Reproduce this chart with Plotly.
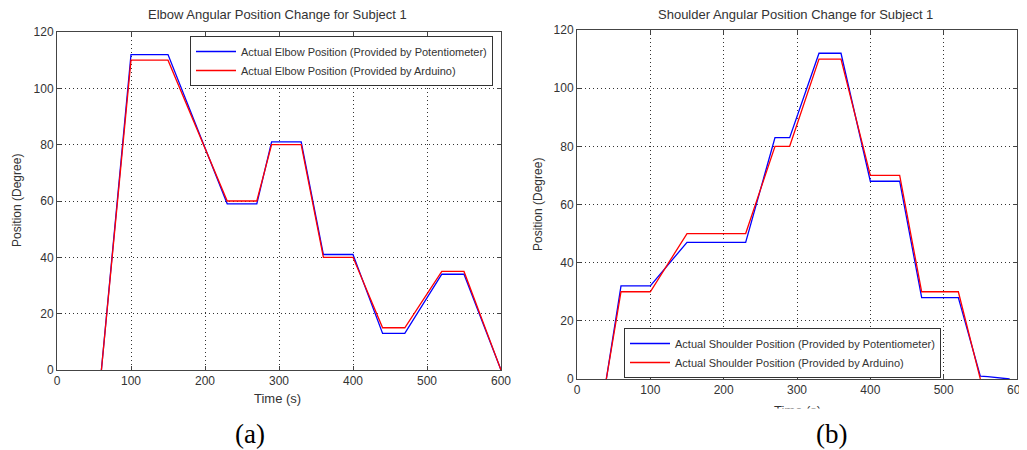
import plotly.graph_objects as go

# ---- Data ----
elbow_t_pot = [60, 100, 150, 230, 270, 290, 330, 360, 400, 440, 470, 520, 550, 600]
elbow_pot = [0, 112, 112, 59, 59, 81, 81, 41, 41, 13, 13, 34, 34, 0]
elbow_t_ard = [60, 100, 150, 230, 270, 290, 330, 360, 400, 440, 470, 520, 550, 600]
elbow_ard = [0, 110, 110, 60, 60, 80, 80, 40, 40, 15, 15, 35, 35, 0]

shoulder_t_pot = [40, 60, 100, 150, 230, 270, 290, 330, 360, 400, 440, 470, 520, 550, 560, 575, 590]
shoulder_pot = [0, 32, 32, 47, 47, 83, 83, 112, 112, 68, 68, 28, 28, 1, 0.8, 0.3, 0]
shoulder_t_ard = [40, 60, 100, 150, 230, 270, 290, 330, 360, 400, 440, 470, 520, 550]
shoulder_ard = [0, 30, 30, 50, 50, 80, 80, 110, 110, 70, 70, 30, 30, 0]

x_ticks = [0, 100, 200, 300, 400, 500, 600]
y_ticks = [0, 20, 40, 60, 80, 100, 120]

# the page body adds an 8px margin; size the figure to fill the rest of the window
OFF = 8
W, H = 1027 - OFF, 450 - OFF
BLUE = "#0000ff"
RED = "#ff0000"
FONT = "Liberation Sans, Arial, sans-serif"
SERIF = "Liberation Serif, Times New Roman, serif"
TXT = "#333333"

fig = go.Figure()

fig.add_trace(go.Scatter(x=elbow_t_pot, y=elbow_pot, mode="lines",
                         line=dict(color=BLUE, width=1.3),
                         name="Actual Elbow Position (Provided by Potentiometer)",
                         xaxis="x", yaxis="y", legend="legend"))
fig.add_trace(go.Scatter(x=elbow_t_ard, y=elbow_ard, mode="lines",
                         line=dict(color=RED, width=1.3),
                         name="Actual Elbow Position (Provided by Arduino)",
                         xaxis="x", yaxis="y", legend="legend"))
fig.add_trace(go.Scatter(x=shoulder_t_pot, y=shoulder_pot, mode="lines",
                         line=dict(color=BLUE, width=1.3),
                         name="Actual Shoulder Position (Provided by Potentiometer)",
                         xaxis="x2", yaxis="y2", legend="legend2"))
fig.add_trace(go.Scatter(x=shoulder_t_ard, y=shoulder_ard, mode="lines",
                         line=dict(color=RED, width=1.3),
                         name="Actual Shoulder Position (Provided by Arduino)",
                         xaxis="x2", yaxis="y2", legend="legend2"))

def px_x(p):
    return (p - OFF) / W

def px_y(p):
    return 1 - (p - OFF) / H

axis_common = dict(
    showline=True, linecolor="#444444", linewidth=1, mirror="ticks",
    ticks="inside", ticklen=4, tickcolor="#444444",
    showgrid=True, gridcolor="#333333", gridwidth=1, griddash="1px,3px",
    zeroline=False, tickfont=dict(family=FONT, size=12, color=TXT),
    fixedrange=True, automargin=False, ticklabeloverflow="allow",
)

legend_common = dict(
    xanchor="left", yanchor="top", bgcolor="white", bordercolor="#333333",
    borderwidth=1, font=dict(family=FONT, size=11, color=TXT), itemwidth=40,
    tracegroupgap=0,
)

fig.update_layout(
    width=W, height=H,
    margin=dict(l=0, r=0, t=0, b=0, autoexpand=False),
    paper_bgcolor="white", plot_bgcolor="white",
    xaxis=dict(domain=[px_x(57), px_x(501)], range=[0, 600], tickvals=x_ticks,
               anchor="y", **axis_common),
    yaxis=dict(domain=[px_y(370), px_y(32)], range=[0, 120], tickvals=y_ticks,
               anchor="x", **axis_common),
    xaxis2=dict(domain=[px_x(577), px_x(1017)], range=[0, 600], tickvals=x_ticks,
                anchor="y2", **axis_common),
    yaxis2=dict(domain=[px_y(379), px_y(30)], range=[0, 120], tickvals=y_ticks,
                anchor="x2", **axis_common),
    legend=dict(x=px_x(190), y=px_y(36), **legend_common),
    legend2=dict(x=px_x(624), y=px_y(328), **legend_common),
    showlegend=True,
)

def ann(text, x, y, size=12, angle=0, family=FONT, color=TXT, **kw):
    fig.add_annotation(text=text, x=px_x(x), y=px_y(y), xref="paper", yref="paper",
                       showarrow=False, xanchor="center", yanchor="middle",
                       textangle=angle, font=dict(family=family, size=size, color=color), **kw)

ann("Elbow Angular Position Change for Subject 1", 277, 15, size=13)
ann("Shoulder Angular Position Change for Subject 1", 795, 15, size=13)
ann("Position (Degree)", 17, 201, size=12, angle=-90)
ann("Position (Degree)", 538, 205, size=12, angle=-90)
ann("Time (s)", 277, 398, size=13)
ann("Time (s)", 797, 410, size=13)
# white band that clips the lower part of the right x-axis title, as in the reference
fig.add_annotation(text=" ", x=px_x(797), y=px_y(408), xref="paper", yref="paper",
                   showarrow=False, xanchor="center", yanchor="top",
                   width=120, height=20, bgcolor="white", borderpad=0)
ann("(a)", 250, 434, size=27, family=SERIF, color="#000000")
ann("(b)", 831, 434, size=27, family=SERIF, color="#000000")

fig.write_html("out.html")
